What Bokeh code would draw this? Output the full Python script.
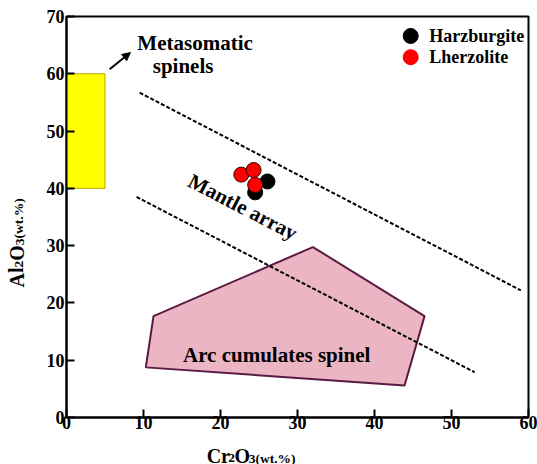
from bokeh.plotting import figure
from bokeh.layouts import row, column
from bokeh.models import FixedTicker, Arrow, NormalHead, Range1d
from bokeh.embed import file_html
from bokeh.resources import INLINE
from bokeh.core.properties import value

# ---- data ----
harz_cr = [26.1, 24.5]
harz_al = [41.2, 39.3]
lherz_cr = [22.7, 24.3, 24.5]
lherz_al = [42.4, 43.2, 40.6]

meta_x = [0, 5]
meta_y = [40, 60]

arc_cr = [10.3, 11.3, 32.0, 46.5, 43.9]
arc_al = [8.75, 17.7, 29.75, 17.7, 5.6]

upper_cr = [9.5, 59.0]
upper_al = [56.7, 22.2]
lower_cr = [9.1, 53.0]
lower_al = [38.5, 7.9]

x_ticks = [0, 10, 20, 30, 40, 50, 60]
y_ticks = [0, 10, 20, 30, 40, 50, 60, 70]

legend_labels = ["Harzburgite", "Lherzolite"]
legend_colors = ["black", "#ff0000"]

x_title = ["Cr", "2", "O", "3(wt.%)"]
y_title = ["Al", "2", "O", "3(wt.%)"]

FONT = "Liberation Serif"
LEFT_W = 36
XL_H = 29

p = figure(width=537 - LEFT_W, height=464 - XL_H, x_range=(0, 60), y_range=(0, 70),
           output_backend="svg", toolbar_location=None,
           min_border_left=66 - LEFT_W, min_border_right=9, min_border_top=16,
           min_border_bottom=464 - XL_H - 417)
p.grid.visible = False
p.outline_line_color = "black"
p.outline_line_width = 2
p.background_fill_color = "white"
p.border_fill_color = "white"

for ax, ticks in ((p.xaxis, x_ticks), (p.yaxis, y_ticks)):
    ax.ticker = FixedTicker(ticks=ticks)
    ax.axis_line_width = 2
    ax.axis_line_color = "black"
    ax.major_tick_in = 8
    ax.major_tick_out = 0
    ax.major_tick_line_width = 2
    ax.minor_tick_line_color = None
    ax.major_label_text_font = FONT
    ax.major_label_text_font_style = "bold"
    ax.major_label_text_font_size = "18px"
    ax.major_label_text_color = "black"
    ax.axis_label = None
p.xaxis.major_label_standoff = -2
p.yaxis.major_label_standoff = 2

# metasomatic box
p.quad(left=meta_x[0], right=meta_x[1], bottom=meta_y[0], top=meta_y[1],
       fill_color="#ffff00", line_color="#b8a800", line_width=1)

# arc cumulates polygon
p.patch(arc_cr, arc_al, fill_color="#ebb5c3", line_color="#5a1a44", line_width=2)

# mantle array dashed lines
p.line(upper_cr, upper_al, line_color="black", line_width=2, line_dash="4 2")
p.line(lower_cr, lower_al, line_color="black", line_width=2, line_dash="4 2")

# samples
p.scatter(harz_cr, harz_al, size=15, fill_color="black", line_color="black", line_width=1)
p.scatter(lherz_cr, lherz_al, size=15, fill_color="#ff0000", line_color="#3a0000", line_width=1)

# legend (manual)
p.scatter([44.7, 44.7], [66.6, 62.9], size=15, fill_color=legend_colors,
          line_color=legend_colors)
p.text([47.1, 47.1], [66.6, 62.9], text=legend_labels, text_font=value(FONT),
       text_font_style="bold", text_font_size="18px", text_baseline="middle",
       text_align="left", text_color="black")

# arrow
p.add_layout(Arrow(x_start=5.6, y_start=60.8, x_end=8.3, y_end=63.7,
                   line_width=2, line_color="black",
                   end=NormalHead(size=8, fill_color="black", line_color="black")))


def txt(fig, x, y, s, size="20px", angle=0, align="left", baseline="alphabetic"):
    fig.text([x], [y], text=[s], text_font=value(FONT), text_font_style="bold",
             text_font_size=size, text_align=align, text_baseline=baseline,
             angle=angle, text_color="black")


txt(p, 9.2, 65.4, "Metasomatic", size="21px")
txt(p, 11.2, 61.3, "spinels", size="21px")
txt(p, 22.9, 36.75, "Mantle array", size="21px", angle=-0.478, align="center", baseline="middle")
txt(p, 27.3, 10.85, "Arc cumulates spinel", size="21px", align="center")


def blank(w, h):
    f = figure(width=w, height=h, x_range=Range1d(0, w), y_range=Range1d(0, h),
               output_backend="svg", toolbar_location=None,
               x_axis_type=None, y_axis_type=None, min_border=0)
    f.grid.visible = False
    f.outline_line_color = None
    f.background_fill_color = "white"
    f.border_fill_color = "white"
    return f


BIG, SMALL = 20, 13.5
widths_x = [1.166 * BIG, 0.5 * SMALL, 0.778 * BIG]
widths_y = [1.0 * BIG, 0.5 * SMALL, 0.778 * BIG]
sizes = [BIG, SMALL, BIG, SMALL]
drops = [0, 2.5, 0, 2.5]

# x-axis title panel
xl = blank(537 - LEFT_W, XL_H)
pos = 205 - LEFT_W - 17
for i, s in enumerate(x_title):
    txt(xl, pos, 9 - drops[i], s, size=f"{sizes[i]}px")
    if i < 3:
        pos += widths_x[i]

# y-axis title panel
yl = blank(LEFT_W, 464)
pos = 464 - 287
for i, s in enumerate(y_title):
    txt(yl, 16 + drops[i], pos, s, size=f"{sizes[i]}px", angle=1.5708)
    if i < 3:
        pos += widths_y[i]

layout = row(yl, column(p, xl))
open("out.html", "w").write(file_html(layout, INLINE))
